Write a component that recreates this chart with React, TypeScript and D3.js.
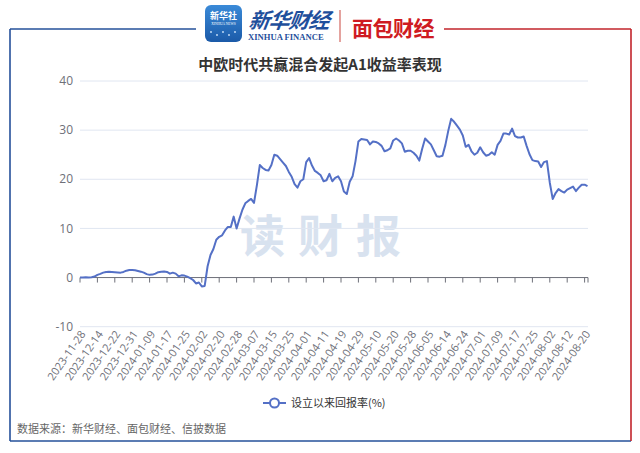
import React from "react";
import * as d3 from "d3";

const title = "中欧时代共赢混合发起A1收益率表现";
const seriesName = "设立以来回报率(%)";
const sourceNote = "数据来源：新华财经、面包财经、信披数据";

const tickLabels = [
  "2023-11-28", "2023-12-14", "2023-12-22", "2023-12-31", "2024-01-09", "2024-01-17",
  "2024-01-25", "2024-02-02", "2024-02-20", "2024-02-28", "2024-03-07", "2024-03-15",
  "2024-03-25", "2024-04-01", "2024-04-11", "2024-04-19", "2024-04-29", "2024-05-10",
  "2024-05-20", "2024-05-28", "2024-06-05", "2024-06-14", "2024-06-24", "2024-07-01",
  "2024-07-09", "2024-07-17", "2024-07-25", "2024-08-02", "2024-08-12", "2024-08-20",
];
const labelEvery = 6;

const returns = [
  0, 0, 0.05, 0, 0.05, 0.2, 0.55, 0.75, 1.0, 1.15,
  1.2, 1.15, 1.1, 1.05, 1.0, 1.15, 1.4, 1.55, 1.55, 1.5,
  1.35, 1.2, 1.0, 0.7, 0.55, 0.6, 0.8, 1.1, 1.2, 1.25,
  1.15, 0.8, 1.0, 0.8, 0.25, 0.45, 0.4, 0.2, -0.1, -0.5,
  -1.2, -1.0, -1.8, -1.7, 2.3, 4.6, 5.8, 7.7, 8.3, 8.6,
  9.6, 10.3, 10.3, 12.4, 10.0, 12.0, 13.8, 15.1, 15.6, 16.0,
  15.2, 18.8, 22.9, 22.3, 21.9, 21.8, 22.9, 25.0, 24.8, 24.1,
  23.4, 22.7, 21.5, 20.5, 19.0, 18.3, 19.6, 20.0, 23.5, 24.3,
  22.8, 21.7, 21.3, 20.8, 19.6, 19.8, 21.1, 19.6, 20.3, 20.6,
  19.6, 17.5, 17.0, 19.5, 20.6, 23.7, 27.7, 28.2, 28.1, 28.0,
  27.1, 27.7, 27.6, 27.3, 26.8, 25.7, 25.9, 26.3, 27.9, 28.3,
  27.9, 27.3, 25.6, 25.8, 25.8, 25.4, 24.8, 23.8, 26.2, 28.3,
  27.7, 27.1, 25.9, 24.7, 24.6, 24.8, 27.0, 29.9, 32.3, 31.7,
  30.9, 30.1, 28.9, 26.6, 27.0, 25.7, 25.0, 25.4, 26.5, 25.5,
  24.8, 25.0, 25.5, 25.0, 27.0, 27.8, 29.3, 29.3, 29.1, 30.3,
  28.8, 28.5, 28.5, 28.7, 26.8, 25.1, 23.9, 23.7, 23.6, 22.5,
  23.5, 23.7, 19.3, 16.0, 17.2, 18.0, 17.6, 17.3, 17.9, 18.2,
  18.5, 17.6, 18.3, 18.9, 18.9, 18.6,
];

const yTicks = [-10, 0, 10, 20, 30, 40];

const W = 640;
const H = 453;
const CJK = "'Noto Sans CJK SC', 'Noto Sans', sans-serif";

export default function App() {
  const x = d3.scaleLinear().domain([0, returns.length - 1]).range([80, 587.5]);
  const y = d3.scaleLinear().domain([-10, 40]).range([326.7, 81]);
  const line = d3
    .line<number>()
    .x((_, i) => x(i))
    .y((d) => y(d))
    .curve(d3.curveLinear);

  const left = 80;
  const right = 588;
  const blue = "#25509a";
  const red = "#c2242b";

  return (
    <svg
      width={W}
      height={H}
      style={{ position: "absolute", left: 0, top: 0, background: "#fff" }}
      fontFamily={CJK}
    >
      <rect x={0} y={0} width={W} height={H} fill="#fff" />
      {/* frame */}
      <line x1={10} y1={29} x2={196} y2={29} stroke={blue} strokeWidth={1.6} />
      <line x1={10} y1={29} x2={10} y2={441} stroke={blue} strokeWidth={1.6} />
      <line x1={10} y1={441} x2={631} y2={441} stroke={blue} strokeWidth={1.6} />
      <line x1={444} y1={29} x2={631} y2={29} stroke={red} strokeWidth={1.6} />
      <line x1={631} y1={29} x2={631} y2={441} stroke={red} strokeWidth={1.6} />

      {/* logos */}
      <defs>
        <linearGradient id="xh" x1="0" y1="0" x2="0" y2="1">
          <stop offset="0" stopColor="#3a8ad8" />
          <stop offset="1" stopColor="#1b5aa8" />
        </linearGradient>
      </defs>
      <rect x={205} y={5} width={37} height={37} rx={6} fill="url(#xh)" />
      <text x={223.5} y={19} textAnchor="middle" fontSize={9} fill="#fff" fontWeight="bold">
        新华社
      </text>
      <text x={223.5} y={25} textAnchor="middle" fontSize={3.5} fill="#fff" fontFamily="'Liberation Serif', serif">
        XINHUA NEWS
      </text>
      {[0, 1, 2, 3, 4].map((k) => (
        <circle key={k} cx={211 + k * 6} cy={32 + (k % 2) * 3} r={0.9} fill="#cfe4fb" />
      ))}
      <text
        x={248}
        y={28}
        fontSize={21}
        fill="#1f4f9c"
        fontWeight="bold"
        fontStyle="italic"
        transform="skewX(-8) translate(4,0)"
        letterSpacing={-1}
      >
        新华财经
      </text>
      <text x={248} y={40} fontSize={8.6} fill="#1f4f9c" fontWeight="bold" fontFamily="'Liberation Serif', serif">
        XINHUA FINANCE
      </text>
      <line x1={340} y1={10} x2={340} y2={42} stroke="#c9473f" strokeWidth={1} />
      <text x={352} y={36} fontSize={21} fill="#cf1b22" fontWeight="bold" letterSpacing={-0.5}>
        面包财经
      </text>

      {/* title */}
      <text x={320} y={70} textAnchor="middle" fontSize={15} fontWeight="bold" fill="#333">
        {title}
      </text>

      {/* watermark */}
      <text x={240} y={253} fontSize={45} fontWeight="bold" fill="#d8e2ef" letterSpacing={13}>
        读财报
      </text>

      {/* grid + y labels */}
      {yTicks.map((t) => (
        <g key={t}>
          {t !== 0 && (
            <line x1={left} x2={right} y1={y(t)} y2={y(t)} stroke="#e0e6f1" strokeWidth={1} />
          )}
          <text
            x={73}
            y={y(t)}
            dy="0.35em"
            textAnchor="end"
            fontSize={12}
            fill="#6e7079"
            fontFamily="'Open Sans', 'Noto Sans', sans-serif"
          >
            {t}
          </text>
        </g>
      ))}

      {/* x axis at zero */}
      <line x1={left} x2={right} y1={y(0)} y2={y(0)} stroke="#6e7079" strokeWidth={1} />
      {tickLabels.map((lab, k) => {
        const xi = x(k * labelEvery);
        return (
          <g key={lab}>
            <line x1={xi} x2={xi} y1={y(0)} y2={y(0) + 5} stroke="#6e7079" strokeWidth={1} />
            <text
              transform={`translate(${xi + 3},${332}) rotate(-55)`}
              textAnchor="end"
              dy="0.35em"
              fontSize={11}
              fill="#6e7079"
              fontFamily="'Open Sans', 'Noto Sans', sans-serif"
            >
              {lab}
            </text>
          </g>
        );
      })}
      <line x1={right} x2={right} y1={y(0)} y2={y(0) + 5} stroke="#6e7079" strokeWidth={1} />

      {/* series */}
      <path d={line(returns) || ""} fill="none" stroke="#5470c6" strokeWidth={2} strokeLinejoin="round" />

      {/* legend */}
      <line x1={263} x2={286} y1={403} y2={403} stroke="#5470c6" strokeWidth={2} />
      <circle cx={274.5} cy={403} r={4.5} fill="#fff" stroke="#5470c6" strokeWidth={2} />
      <text x={291} y={403} dy="0.35em" fontSize={11} fill="#333">
        {seriesName}
      </text>

      {/* source */}
      <text x={17} y={429} dy="0.35em" fontSize={11} fill="#666">
        {sourceNote}
      </text>
    </svg>
  );
}
